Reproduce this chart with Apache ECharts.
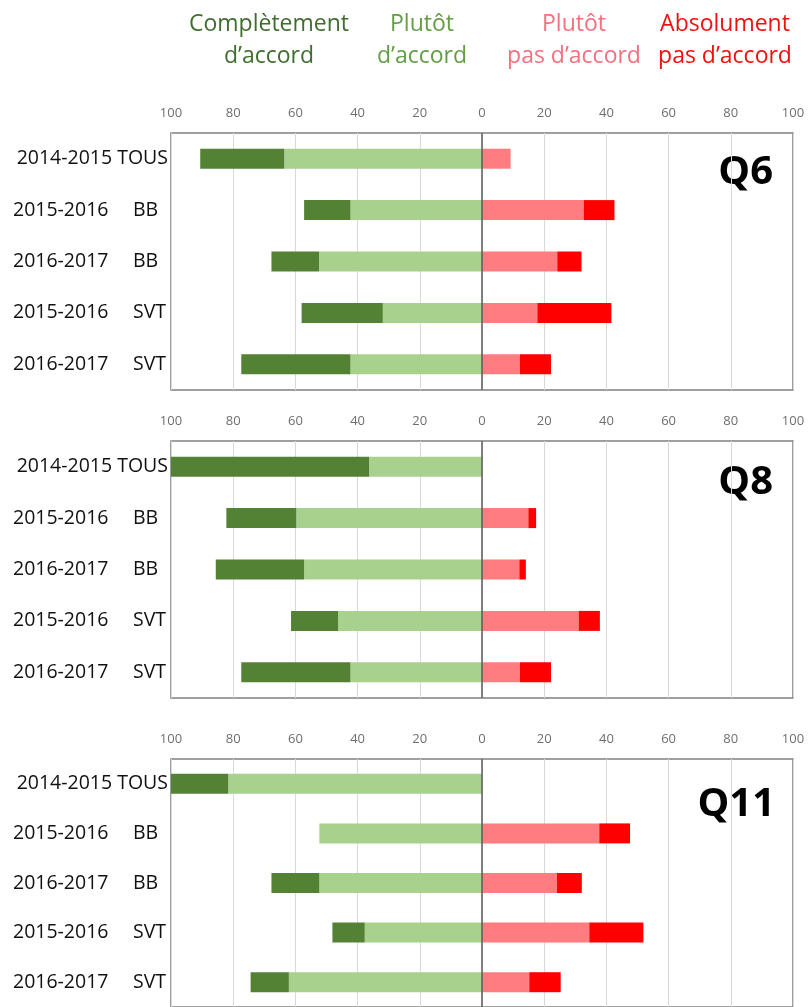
<!DOCTYPE html>
<html>
<head>
<meta charset="utf-8">
<script src="https://cdn.jsdelivr.net/npm/echarts@6/dist/echarts.min.js"></script>
<style>
html,body{margin:0;padding:0;background:#fff;}
#chart{width:808px;height:1007px;}
</style>
</head>
<body>
<div id="chart"></div>
<script>
// ---- data ----
const categories = ['2014-2015 TOUS', '2015-2016 BB', '2016-2017 BB', '2015-2016 SVT', '2016-2017 SVT'];
const questions = ['Q6', 'Q8', 'Q11'];
const legendLabels = ['Complètement\nd’accord', 'Plutôt\nd’accord', 'Plutôt\npas d’accord', 'Absolument\npas d’accord'];
const xMin = -100, xMax = 100, xStep = 20;

// Q6
const q6Complet = [27.0, 14.9, 15.3, 26.1, 35.1];
const q6Plutot = [63.6, 42.3, 52.4, 31.9, 42.3];
const q6PlutotPas = [9.2, 32.7, 24.2, 17.8, 12.2];
const q6AbsolPas = [0, 9.9, 7.8, 23.8, 10.0];
// Q8
const q8Complet = [63.7, 22.5, 28.4, 15.1, 35.1];
const q8Plutot = [36.3, 59.7, 57.2, 46.3, 42.3];
const q8PlutotPas = [0, 14.9, 12.0, 31.1, 12.2];
const q8AbsolPas = [0, 2.5, 2.1, 6.8, 10.0];
// Q11
const q11Complet = [18.4, 0, 15.4, 10.4, 12.3];
const q11Plutot = [81.6, 52.3, 52.3, 37.7, 62.1];
const q11PlutotPas = [0, 37.7, 24.1, 34.5, 15.2];
const q11AbsolPas = [0, 9.9, 8.0, 17.4, 10.1];

// ---- styles ----
const colors = { complet: '#548235', plutot: '#a9d18e', plutotPas: '#ff7c80', absolPas: '#ff0000' };
const legendColors = ['#3f6e2f', '#639e45', '#f4707f', '#f01010'];
const legendX = [269, 422, 574, 725];
const FONT = '"Open Sans", "Liberation Sans", sans-serif';

const panels = [
  { c: q6Complet, p: q6Plutot, pp: q6PlutotPas, ap: q6AbsolPas, top: 133, qx: 773, qy: 173 },
  { c: q8Complet, p: q8Plutot, pp: q8PlutotPas, ap: q8AbsolPas, top: 441, qx: 773, qy: 483 },
  { c: q11Complet, p: q11Plutot, pp: q11PlutotPas, ap: q11AbsolPas, top: 759, qx: 775, qy: 805 }
];

const grids = [], xAxes = [], yAxes = [], series = [], graphics = [];

panels.forEach((pn, i) => {
  grids.push({ left: 171, right: 15, top: pn.top, height: 257, show: true, borderColor: '#808080', borderWidth: 1.5, backgroundColor: 'transparent', containLabel: false });
  xAxes.push({
    type: 'value', gridIndex: i, position: 'top', min: xMin, max: xMax, interval: xStep,
    axisLine: { show: false }, axisTick: { show: false },
    axisLabel: { color: '#6e6e6e', fontSize: 13, fontFamily: FONT, margin: 13, formatter: v => Math.abs(v) },
    splitLine: { show: true, lineStyle: { color: '#d9d9d9', width: 1 } }
  });
  yAxes.push({
    type: 'category', gridIndex: i, data: categories, inverse: true,
    axisLine: { show: false }, axisTick: { show: false }, splitLine: { show: false },
    axisLabel: {
      margin: 3, align: 'right', color: '#111',
      formatter: v => {
        const parts = v.split(' ');
        if (parts[1] === 'TOUS') return '{t|' + v + '}';
        return '{y|' + parts[0] + '}{g|' + parts[1] + '}';
      },
      rich: {
        t: { fontSize: 19.5, fontFamily: FONT, color: '#111' },
        y: { fontSize: 19.5, fontFamily: FONT, color: '#111', width: 120, align: 'left' },
        g: { fontSize: 19.5, fontFamily: FONT, color: '#111', width: 35, align: 'left' }
      }
    }
  });
  const stack = 'st' + i;
  const base = { type: 'bar', xAxisIndex: i, yAxisIndex: i, stack: stack, barWidth: 20, animation: false, silent: true };
  series.push(Object.assign({}, base, {
    name: 'Plutôt d’accord', data: pn.p.map(v => -v), itemStyle: { color: colors.plutot },
    markLine: { silent: true, symbol: ['none', 'none'], label: { show: false }, animation: false,
      lineStyle: { color: '#5a5a5a', type: 'solid', width: 1.5 }, data: [{ xAxis: 0 }] }
  }));
  series.push(Object.assign({}, base, { name: 'Complètement d’accord', data: pn.c.map(v => -v), itemStyle: { color: colors.complet } }));
  series.push(Object.assign({}, base, { name: 'Plutôt pas d’accord', data: pn.pp, itemStyle: { color: colors.plutotPas } }));
  series.push(Object.assign({}, base, { name: 'Absolument pas d’accord', data: pn.ap, itemStyle: { color: colors.absolPas } }));
  graphics.push({ type: 'text', x: pn.qx, y: pn.qy, silent: true,
    style: { text: questions[i], fill: '#000', font: 'bold 40px ' + FONT, textAlign: 'right', textVerticalAlign: 'middle' } });
});

legendLabels.forEach((t, i) => {
  graphics.push({ type: 'text', x: legendX[i], y: 40, silent: true,
    style: { text: t, fill: legendColors[i], font: '23px ' + FONT, lineHeight: 32, textAlign: 'center', textVerticalAlign: 'middle' } });
});

const chart = echarts.init(document.getElementById('chart'), null, { renderer: 'canvas' });
chart.setOption({
  backgroundColor: '#fff',
  animation: false,
  grid: grids, xAxis: xAxes, yAxis: yAxes, series: series, graphic: graphics
});
</script>
</body>
</html>
